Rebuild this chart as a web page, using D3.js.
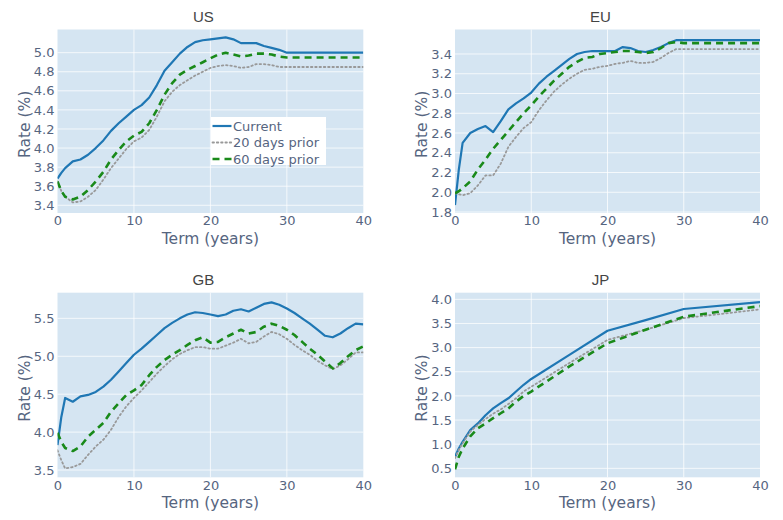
<!DOCTYPE html>
<html>
<head>
<meta charset="utf-8">
<script src="https://cdn.jsdelivr.net/npm/d3@7"></script>
<style>
  body { margin: 0; background: #ffffff; }
  svg { display: block; }
</style>
</head>
<body>
<div id="chart"></div>
<script>
// ------------------------------ DATA ------------------------------
var terms = [0, 0.5, 1, 2, 3, 4, 5, 6, 7, 8, 9, 10, 11, 12, 13, 14, 15, 16, 17, 18, 19, 20,
             21, 22, 23, 24, 25, 26, 27, 28, 29, 30, 31, 32, 33, 34, 35, 36, 37, 38, 39, 40];
var termsJP = [0, 0.5, 1, 2, 3, 4, 5, 6, 7, 8, 9, 10, 15, 20, 25, 30, 40];

var usCurrent = [3.68, 3.74, 3.79, 3.86, 3.88, 3.93, 4.00, 4.08, 4.18, 4.26, 4.33, 4.40, 4.45, 4.53, 4.66, 4.81, 4.90, 4.99, 5.06, 5.11, 5.13, 5.14,
                 5.15, 5.16, 5.14, 5.10, 5.10, 5.10, 5.07, 5.05, 5.03, 5.00, 5.00, 5.00, 5.00, 5.00, 5.00, 5.00, 5.00, 5.00, 5.00, 5.00];
var usPrior20 = [3.65, 3.55, 3.49, 3.43, 3.44, 3.49, 3.56, 3.67, 3.79, 3.89, 3.99, 4.07, 4.11, 4.19, 4.33, 4.49, 4.59, 4.66, 4.71, 4.76, 4.80, 4.84,
                 4.86, 4.87, 4.86, 4.84, 4.85, 4.88, 4.88, 4.87, 4.85, 4.85, 4.85, 4.85, 4.85, 4.85, 4.85, 4.85, 4.85, 4.85, 4.85, 4.85];
var usPrior60 = [3.65, 3.55, 3.49, 3.46, 3.49, 3.56, 3.65, 3.75, 3.88, 3.98, 4.07, 4.13, 4.17, 4.26, 4.40, 4.56, 4.68, 4.77, 4.82, 4.86, 4.90, 4.94,
                 4.98, 5.00, 4.98, 4.96, 4.97, 4.99, 4.99, 4.98, 4.96, 4.95, 4.95, 4.95, 4.95, 4.95, 4.95, 4.95, 4.95, 4.95, 4.95, 4.95];

var euCurrent = [1.87, 2.23, 2.50, 2.60, 2.64, 2.67, 2.61, 2.72, 2.84, 2.90, 2.95, 3.01, 3.10, 3.17, 3.23, 3.29, 3.35, 3.40, 3.42, 3.43, 3.43, 3.43,
                 3.43, 3.47, 3.46, 3.43, 3.42, 3.44, 3.47, 3.51, 3.54, 3.54, 3.54, 3.54, 3.54, 3.54, 3.54, 3.54, 3.54, 3.54, 3.54, 3.54];
var euPrior20 = [1.99, 1.98, 1.97, 1.99, 2.07, 2.17, 2.17, 2.29, 2.46, 2.56, 2.65, 2.71, 2.83, 2.93, 3.02, 3.09, 3.15, 3.20, 3.24, 3.25, 3.27, 3.28,
                 3.30, 3.31, 3.33, 3.31, 3.31, 3.32, 3.36, 3.41, 3.45, 3.45, 3.45, 3.45, 3.45, 3.45, 3.45, 3.45, 3.45, 3.45, 3.45, 3.45];
var euPrior60 = [1.99, 2.01, 2.04, 2.11, 2.23, 2.33, 2.44, 2.53, 2.62, 2.71, 2.80, 2.88, 2.97, 3.05, 3.13, 3.20, 3.27, 3.32, 3.36, 3.37, 3.40, 3.41,
                 3.42, 3.43, 3.43, 3.42, 3.41, 3.42, 3.46, 3.51, 3.52, 3.51, 3.51, 3.51, 3.51, 3.51, 3.51, 3.51, 3.51, 3.51, 3.51, 3.51];

var gbCurrent = [3.83, 4.20, 4.45, 4.40, 4.47, 4.49, 4.53, 4.60, 4.69, 4.80, 4.91, 5.02, 5.10, 5.19, 5.28, 5.37, 5.44, 5.50, 5.55, 5.58, 5.57, 5.55,
                 5.53, 5.55, 5.60, 5.62, 5.59, 5.64, 5.69, 5.71, 5.68, 5.63, 5.57, 5.50, 5.43, 5.35, 5.27, 5.25, 5.30, 5.37, 5.43, 5.42];
var gbPrior20 = [3.76, 3.63, 3.52, 3.54, 3.58, 3.70, 3.81, 3.90, 4.03, 4.20, 4.34, 4.45, 4.55, 4.66, 4.77, 4.87, 4.96, 5.03, 5.08, 5.12, 5.12, 5.10,
                 5.10, 5.14, 5.18, 5.23, 5.17, 5.19, 5.26, 5.32, 5.29, 5.23, 5.15, 5.08, 5.02, 4.94, 4.88, 4.83, 4.88, 4.96, 5.05, 5.05];
var gbPrior60 = [3.99, 3.87, 3.79, 3.75, 3.81, 3.94, 4.03, 4.12, 4.27, 4.38, 4.49, 4.55, 4.62, 4.75, 4.86, 4.95, 5.02, 5.08, 5.15, 5.21, 5.25, 5.18,
                 5.19, 5.25, 5.30, 5.35, 5.30, 5.32, 5.39, 5.43, 5.40, 5.35, 5.28, 5.19, 5.10, 5.02, 4.93, 4.84, 4.91, 5.00, 5.08, 5.13];

var jpCurrent = [0.74, 0.91, 1.05, 1.29, 1.43, 1.60, 1.74, 1.85, 1.95, 2.09, 2.23, 2.35, 2.85, 3.35, 3.57, 3.80, 3.94];
var jpPrior20 = [0.71, 0.88, 1.02, 1.26, 1.40, 1.52, 1.63, 1.72, 1.83, 1.95, 2.09, 2.19, 2.68, 3.16, 3.37, 3.61, 3.79];
var jpPrior60 = [0.48, 0.74, 0.91, 1.16, 1.33, 1.43, 1.54, 1.64, 1.74, 1.88, 2.00, 2.09, 2.61, 3.09, 3.37, 3.64, 3.86];

var seriesNames = ["Current", "20 days prior", "60 days prior"];
var xTicks = [0, 10, 20, 30, 40];
var usTicks = [3.4, 3.6, 3.8, 4.0, 4.2, 4.4, 4.6, 4.8, 5.0];
var euTicks = [1.8, 2.0, 2.2, 2.4, 2.6, 2.8, 3.0, 3.2, 3.4];
var gbTicks = [3.5, 4.0, 4.5, 5.0, 5.5];
var jpTicks = [0.5, 1.0, 1.5, 2.0, 2.5, 3.0, 3.5, 4.0];

// ------------------------------ CONFIG ------------------------------
var width = 783, height = 520;
var bgColor = "#d5e5f2",
    tickColor = "#56657f",
    titleColor = "#444444";
var styles = [
    { color: "#1f77b4", width: 2.2, dash: null },
    { color: "#999999", width: 1.8, dash: "1.5,2.8" },
    { color: "#1a8a1a", width: 2.6, dash: "7,5" }
];

var panels = [
    { name: "US", x: terms,   series: [usCurrent, usPrior20, usPrior60], ticks: usTicks, fmt: ".1f",
      left: 57.5, right: 363.3, top: 29.5, bottom: 213, yDomain: [3.319, 5.243], legend: true },
    { name: "EU", x: terms,   series: [euCurrent, euPrior20, euPrior60], ticks: euTicks, fmt: ".1f",
      left: 455, right: 760, top: 29.5, bottom: 213, yDomain: [1.79, 3.648] },
    { name: "GB", x: terms,   series: [gbCurrent, gbPrior20, gbPrior60], ticks: gbTicks, fmt: ".1f",
      left: 57.5, right: 363.3, top: 292.7, bottom: 477.3, yDomain: [3.404, 5.838] },
    { name: "JP", x: termsJP, series: [jpCurrent, jpPrior20, jpPrior60], ticks: jpTicks, fmt: ".1f",
      left: 455, right: 760, top: 292.7, bottom: 477.3, yDomain: [0.314, 4.137] }
];

// ------------------------------ MAIN ------------------------------
var svg = d3.select("#chart")
    .append("svg")
    .attr("width", width)
    .attr("height", height)
    .style("font-family", "'DejaVu Sans', Verdana, sans-serif");

panels.forEach(function (p, pi) {
    var x = d3.scaleLinear().domain([0, 40]).range([p.left, p.right]);
    var y = d3.scaleLinear().domain(p.yDomain).range([p.bottom, p.top]);
    var g = svg.append("g");

    // background
    g.append("rect")
        .attr("x", p.left).attr("y", p.top)
        .attr("width", p.right - p.left).attr("height", p.bottom - p.top)
        .attr("fill", bgColor);

    // grid
    g.append("g").selectAll("line.vg")
        .data(xTicks.slice(1, -1)).enter().append("line")
        .attr("x1", function (d) { return x(d); }).attr("x2", function (d) { return x(d); })
        .attr("y1", p.top).attr("y2", p.bottom)
        .attr("stroke", "#ffffff").attr("stroke-opacity", 0.75).attr("stroke-width", 1);
    g.append("g").selectAll("line.hg")
        .data(p.ticks).enter().append("line")
        .attr("x1", p.left).attr("x2", p.right)
        .attr("y1", function (d) { return y(d); }).attr("y2", function (d) { return y(d); })
        .attr("stroke", "#ffffff").attr("stroke-opacity", 0.75).attr("stroke-width", 1);

    // axes
    var xAxis = g.append("g")
        .attr("transform", "translate(0," + p.bottom + ")")
        .call(d3.axisBottom(x).tickValues(xTicks).tickSize(0).tickPadding(3));
    var yAxis = g.append("g")
        .attr("transform", "translate(" + p.left + ",0)")
        .call(d3.axisLeft(y).tickValues(p.ticks).tickFormat(d3.format(p.fmt)).tickSize(0).tickPadding(3));
    [xAxis, yAxis].forEach(function (a) {
        a.select(".domain").remove();
        a.selectAll("text")
            .attr("fill", tickColor)
            .attr("font-size", "13px")
            .attr("font-family", "'DejaVu Sans', Verdana, sans-serif");
    });

    // clip
    var clipId = "clip" + pi;
    svg.append("clipPath").attr("id", clipId)
        .append("rect")
        .attr("x", p.left).attr("y", p.top - 2)
        .attr("width", p.right - p.left).attr("height", p.bottom - p.top + 4);

    var line = d3.line()
        .x(function (d) { return x(d[0]); })
        .y(function (d) { return y(d[1]); });

    // draw in order: current, 20 days, 60 days
    p.series.forEach(function (s, si) {
        var pts = p.x.map(function (t, i) { return [t, s[i]]; });
        g.append("path")
            .datum(pts)
            .attr("clip-path", "url(#" + clipId + ")")
            .attr("fill", "none")
            .attr("stroke", styles[si].color)
            .attr("stroke-width", styles[si].width)
            .attr("stroke-dasharray", styles[si].dash)
            .attr("stroke-linecap", si === 1 ? "round" : "butt")
            .attr("stroke-linejoin", "round")
            .attr("d", line);
    });

    // subplot title
    g.append("text")
        .attr("x", (p.left + p.right) / 2 - 7)
        .attr("y", p.top - 8)
        .attr("text-anchor", "middle")
        .attr("font-family", "'Liberation Sans', Arial, sans-serif")
        .attr("font-size", "15px")
        .attr("fill", titleColor)
        .text(p.name);

    // axis titles
    g.append("text")
        .attr("x", (p.left + p.right) / 2)
        .attr("y", p.bottom + 30.5)
        .attr("text-anchor", "middle")
        .attr("font-size", "15.5px")
        .attr("fill", tickColor)
        .text("Term (years)");
    var cy = (p.top + p.bottom) / 2 + 3;
    var cx = p.left - 33;
    g.append("text")
        .attr("x", cx).attr("y", cy)
        .attr("transform", "rotate(-90," + cx + "," + cy + ")")
        .attr("text-anchor", "middle")
        .attr("dy", "0.35em")
        .attr("font-size", "15.5px")
        .attr("fill", tickColor)
        .text("Rate (%)");

    // legend
    if (p.legend) {
        var lg = g.append("g").attr("transform", "translate(211,117)");
        lg.append("rect")
            .attr("width", 115).attr("height", 48)
            .attr("fill", "#ffffff");
        seriesNames.forEach(function (n, i) {
            var ly = 9 + i * 16.5;
            lg.append("line")
                .attr("x1", 1.5).attr("x2", 20.5)
                .attr("y1", ly).attr("y2", ly)
                .attr("stroke", styles[i].color)
                .attr("stroke-width", styles[i].width)
                .attr("stroke-dasharray", styles[i].dash)
                .attr("stroke-linecap", i === 1 ? "round" : "butt");
            lg.append("text")
                .attr("x", 22).attr("y", ly)
                .attr("dy", "0.35em")
                .attr("font-size", "13px")
                .attr("fill", tickColor)
                .text(n);
        });
    }
});
</script>
</body>
</html>
